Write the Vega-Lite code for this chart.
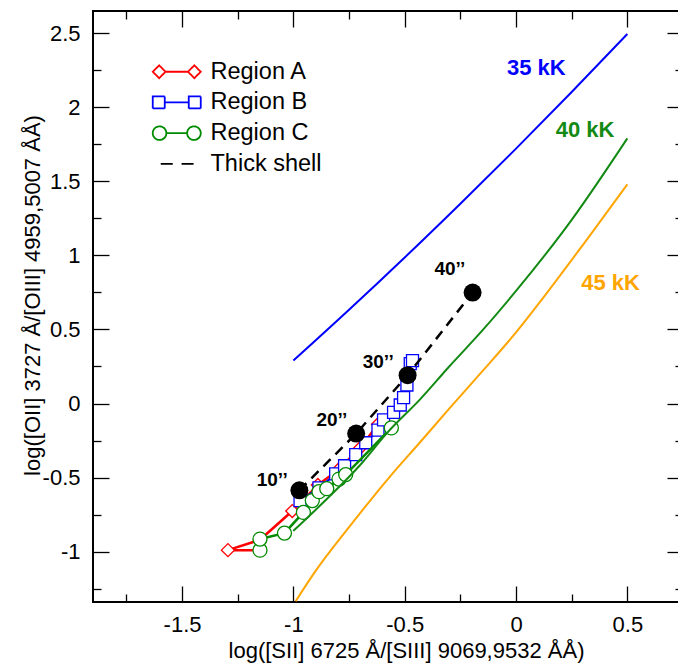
{
  "$schema": "https://vega.github.io/schema/vega-lite/v6.json",
  "width": 590,
  "height": 591,
  "autosize": {"type": "none"},
  "padding": {"left": 93, "top": 11, "right": -5, "bottom": 61},
  "background": "white",
  "config": {
    "font": "Liberation Sans",
    "view": {"stroke": "black", "strokeWidth": 2},
    "axis": {
      "grid": false,
      "domain": false,
      "labelFont": "Liberation Sans",
      "labelFontSize": 22,
      "labelColor": "black",
      "titleFont": "Liberation Sans",
      "titleFontSize": 22,
      "titleFontWeight": "normal",
      "titleColor": "black",
      "tickColor": "black",
      "tickWidth": 1.3,
      "labelFlush": false,
      "labelOverlap": false
    }
  },
  "datasets": {
    "curves": [
      {"curve": "35 kK", "x": -1.0, "y": 0.29},
      {"curve": "35 kK", "x": -0.75, "y": 0.633},
      {"curve": "35 kK", "x": -0.5, "y": 0.986},
      {"curve": "35 kK", "x": -0.25, "y": 1.349},
      {"curve": "35 kK", "x": 0.0, "y": 1.721},
      {"curve": "35 kK", "x": 0.25, "y": 2.103},
      {"curve": "35 kK", "x": 0.5, "y": 2.495},
      {"curve": "40 kK", "x": -1.0, "y": -0.86},
      {"curve": "40 kK", "x": -0.85, "y": -0.645},
      {"curve": "40 kK", "x": -0.7, "y": -0.415},
      {"curve": "40 kK", "x": -0.58, "y": -0.2},
      {"curve": "40 kK", "x": -0.43, "y": 0.03},
      {"curve": "40 kK", "x": -0.3, "y": 0.25},
      {"curve": "40 kK", "x": -0.15, "y": 0.495},
      {"curve": "40 kK", "x": 0.0, "y": 0.76},
      {"curve": "40 kK", "x": 0.25, "y": 1.24},
      {"curve": "40 kK", "x": 0.5, "y": 1.79},
      {"curve": "45 kK", "x": -0.99, "y": -1.335},
      {"curve": "45 kK", "x": -0.9, "y": -1.13},
      {"curve": "45 kK", "x": -0.75, "y": -0.835},
      {"curve": "45 kK", "x": -0.57, "y": -0.5},
      {"curve": "45 kK", "x": -0.43, "y": -0.26},
      {"curve": "45 kK", "x": -0.3, "y": -0.035},
      {"curve": "45 kK", "x": -0.15, "y": 0.22},
      {"curve": "45 kK", "x": 0.0, "y": 0.48},
      {"curve": "45 kK", "x": 0.12, "y": 0.71},
      {"curve": "45 kK", "x": 0.3, "y": 1.07},
      {"curve": "45 kK", "x": 0.5, "y": 1.48}
    ],
    "clabels": [
      {"curve": "35 kK", "x": 0.091, "y": 2.265},
      {"curve": "40 kK", "x": 0.31, "y": 1.846},
      {"curve": "45 kK", "x": 0.425, "y": 0.812}
    ],
    "regA": [
      {"series": "Region A", "o": 1, "x": -1.15, "y": -0.99},
      {"series": "Region A", "o": 2, "x": -1.294, "y": -0.99},
      {"series": "Region A", "o": 3, "x": -1.15, "y": -0.92},
      {"series": "Region A", "o": 4, "x": -1.005, "y": -0.726},
      {"series": "Region A", "o": 5, "x": -0.89, "y": -0.55},
      {"series": "Region A", "o": 6, "x": -0.8, "y": -0.45},
      {"series": "Region A", "o": 7, "x": -0.7, "y": -0.3},
      {"series": "Region A", "o": 8, "x": -0.62, "y": -0.14}
    ],
    "regB": [
      {"series": "Region B", "o": 1, "x": -0.97, "y": -0.655},
      {"series": "Region B", "o": 2, "x": -0.885, "y": -0.57},
      {"series": "Region B", "o": 3, "x": -0.81, "y": -0.475},
      {"series": "Region B", "o": 4, "x": -0.77, "y": -0.42},
      {"series": "Region B", "o": 5, "x": -0.72, "y": -0.345},
      {"series": "Region B", "o": 6, "x": -0.675, "y": -0.265},
      {"series": "Region B", "o": 7, "x": -0.62, "y": -0.18},
      {"series": "Region B", "o": 8, "x": -0.595, "y": -0.11},
      {"series": "Region B", "o": 9, "x": -0.55, "y": -0.06},
      {"series": "Region B", "o": 10, "x": -0.52, "y": -0.01},
      {"series": "Region B", "o": 11, "x": -0.505, "y": 0.04},
      {"series": "Region B", "o": 12, "x": -0.49, "y": 0.125},
      {"series": "Region B", "o": 13, "x": -0.475, "y": 0.27},
      {"series": "Region B", "o": 14, "x": -0.465, "y": 0.29}
    ],
    "regC": [
      {"series": "Region C", "o": 1, "x": -1.15, "y": -0.99},
      {"series": "Region C", "o": 2, "x": -1.15, "y": -0.915},
      {"series": "Region C", "o": 3, "x": -1.04, "y": -0.875},
      {"series": "Region C", "o": 4, "x": -0.955, "y": -0.735},
      {"series": "Region C", "o": 5, "x": -0.915, "y": -0.655},
      {"series": "Region C", "o": 6, "x": -0.885, "y": -0.595},
      {"series": "Region C", "o": 7, "x": -0.85, "y": -0.575},
      {"series": "Region C", "o": 8, "x": -0.795, "y": -0.51},
      {"series": "Region C", "o": 9, "x": -0.765, "y": -0.48},
      {"series": "Region C", "o": 10, "x": -0.56, "y": -0.165}
    ],
    "shell": [
      {"series": "Thick shell", "label": "10’’", "x": -0.973, "y": -0.586, "lx": -1.095, "ly": -0.514},
      {"series": "Thick shell", "label": "20’’", "x": -0.718, "y": -0.203, "lx": -0.827, "ly": -0.114},
      {"series": "Thick shell", "label": "30’’", "x": -0.487, "y": 0.191, "lx": -0.619, "ly": 0.278},
      {"series": "Thick shell", "label": "40’’", "x": -0.195, "y": 0.749, "lx": -0.297, "ly": 0.911}
    ]
  },
  "resolve": {"axis": {"x": "independent", "y": "independent"}},
  "layer": [
    {
      "data": {"name": "regA"},
      "mark": {"type": "line", "strokeWidth": 2.5},
      "encoding": {
        "x": {"field": "x", "type": "quantitative", "scale": {"domain": [-1.9, 0.75], "nice": false, "zero": false},
              "axis": {"orient": "bottom", "values": [-1.75, -1.25, -0.75, -0.25, 0.25], "tickSize": -8, "labels": false, "title": null}},
        "y": {"field": "y", "type": "quantitative", "scale": {"domain": [-1.34, 2.65], "nice": false, "zero": false},
              "axis": {"orient": "left", "values": [-1.25, -0.75, -0.25, 0.25, 0.75, 1.25, 1.75, 2.25], "tickSize": -8, "labels": false, "title": null}},
        "order": {"field": "o", "type": "quantitative"},
        "color": {"field": "series", "type": "nominal",
                  "scale": {"domain": ["Region A", "Region B", "Region C", "Thick shell"], "range": ["#ff0000", "#0000ff", "#008a00", "#000000"]},
                  "legend": {
                    "orient": "none", "legendX": 56, "legendY": 49, "title": null, "padding": 0, "rowPadding": 5.7,
                    "labelFont": "Liberation Sans", "labelFontSize": 23.5, "labelColor": "black", "labelOffset": 38,
                    "encode": {"symbols": {"update": {
                      "shape": {"signal": "datum.value === 'Region A' ? 'M-1,0L-0.2,-0.8L0.6,0L-0.2,0.8Z M0.6,0L3.4,0 M3.4,0L4.2,-0.8L5,0L4.2,0.8Z' : datum.value === 'Region B' ? 'M-1,-0.75L0.5,-0.75L0.5,0.75L-1,0.75Z M0.5,0L3.5,0 M3.5,-0.75L5,-0.75L5,0.75L3.5,0.75Z' : datum.value === 'Region C' ? 'M-1,0A0.85,0.85,0,1,1,0.7,0A0.85,0.85,0,1,1,-1,0Z M0.7,0L3.3,0 M3.3,0A0.85,0.85,0,1,1,5,0A0.85,0.85,0,1,1,3.3,0Z' : 'M0,0L1.5,0 M2.6,0L4.1,0'"},
                      "size": {"value": 256},
                      "strokeWidth": {"value": 1.8},
                      "fill": {"value": "transparent"},
                      "stroke": {"signal": "scale('color', datum.value)"},
                      "strokeDash": {"value": [1, 0]},
                      "opacity": {"value": 1}
                    }}}
                  }}
      }
    },
    {
      "data": {"name": "regA"},
      "mark": {"type": "point", "shape": "diamond", "filled": false, "fill": "white", "size": 169, "strokeWidth": 1.3, "opacity": 1},
      "encoding": {
        "x": {"field": "x", "type": "quantitative", "scale": {"domain": [-1.9, 0.75], "nice": false, "zero": false},
              "axis": {"orient": "top", "values": [-1.5, -1, -0.5, 0, 0.5], "tickSize": -16, "labels": false, "title": null}},
        "y": {"field": "y", "type": "quantitative", "scale": {"domain": [-1.34, 2.65], "nice": false, "zero": false},
              "axis": {"orient": "right", "values": [-1, -0.5, 0, 0.5, 1, 1.5, 2, 2.5], "tickSize": -16, "labels": false, "title": null}},
        "color": {"field": "series", "type": "nominal", "scale": {"domain": ["Region A", "Region B", "Region C", "Thick shell"], "range": ["#ff0000", "#0000ff", "#008a00", "#000000"]}}
      }
    },
    {
      "data": {"name": "regB"},
      "mark": {"type": "line", "strokeWidth": 2},
      "encoding": {
        "x": {"field": "x", "type": "quantitative", "scale": {"domain": [-1.9, 0.75], "nice": false, "zero": false},
              "axis": {"orient": "top", "values": [-1.75, -1.25, -0.75, -0.25, 0.25], "tickSize": -8, "labels": false, "title": null}},
        "y": {"field": "y", "type": "quantitative", "scale": {"domain": [-1.34, 2.65], "nice": false, "zero": false},
              "axis": {"orient": "right", "values": [-1.25, -0.75, -0.25, 0.25, 0.75, 1.25, 1.75, 2.25], "tickSize": -8, "labels": false, "title": null}},
        "order": {"field": "o", "type": "quantitative"},
        "color": {"field": "series", "type": "nominal", "scale": {"domain": ["Region A", "Region B", "Region C", "Thick shell"], "range": ["#ff0000", "#0000ff", "#008a00", "#000000"]}}
      }
    },
    {
      "data": {"name": "regB"},
      "mark": {"type": "point", "shape": "square", "filled": false, "fill": "white", "size": 144, "strokeWidth": 1.3, "opacity": 1},
      "encoding": {
        "x": {"field": "x", "type": "quantitative", "scale": {"domain": [-1.9, 0.75], "nice": false, "zero": false}, "axis": null},
        "y": {"field": "y", "type": "quantitative", "scale": {"domain": [-1.34, 2.65], "nice": false, "zero": false}, "axis": null},
        "color": {"field": "series", "type": "nominal", "scale": {"domain": ["Region A", "Region B", "Region C", "Thick shell"], "range": ["#ff0000", "#0000ff", "#008a00", "#000000"]}}
      }
    },
    {
      "data": {"name": "regC"},
      "mark": {"type": "line", "strokeWidth": 2.5},
      "encoding": {
        "x": {"field": "x", "type": "quantitative", "scale": {"domain": [-1.9, 0.75], "nice": false, "zero": false}, "axis": null},
        "y": {"field": "y", "type": "quantitative", "scale": {"domain": [-1.34, 2.65], "nice": false, "zero": false}, "axis": null},
        "order": {"field": "o", "type": "quantitative"},
        "color": {"field": "series", "type": "nominal", "scale": {"domain": ["Region A", "Region B", "Region C", "Thick shell"], "range": ["#ff0000", "#0000ff", "#008a00", "#000000"]}}
      }
    },
    {
      "data": {"name": "regC"},
      "mark": {"type": "point", "shape": "circle", "filled": false, "fill": "white", "size": 196, "strokeWidth": 1.3, "opacity": 1},
      "encoding": {
        "x": {"field": "x", "type": "quantitative", "scale": {"domain": [-1.9, 0.75], "nice": false, "zero": false}, "axis": null},
        "y": {"field": "y", "type": "quantitative", "scale": {"domain": [-1.34, 2.65], "nice": false, "zero": false}, "axis": null},
        "color": {"field": "series", "type": "nominal", "scale": {"domain": ["Region A", "Region B", "Region C", "Thick shell"], "range": ["#ff0000", "#0000ff", "#008a00", "#000000"]}}
      }
    },
    {
      "data": {"name": "curves"},
      "mark": {"type": "line", "strokeWidth": 2, "interpolate": "monotone"},
      "encoding": {
        "x": {"field": "x", "type": "quantitative", "scale": {"domain": [-1.9, 0.75], "nice": false, "zero": false},
              "axis": {"orient": "bottom", "values": [-1.5, -1, -0.5, 0, 0.5], "tickSize": -16, "labelPadding": 28, "labelExpr": "datum.value + ''",
                       "title": "log([SII] 6725 Å/[SIII] 9069,9532 ÅÅ)", "titlePadding": 5, "titleX": 313}},
        "y": {"field": "y", "type": "quantitative", "scale": {"domain": [-1.34, 2.65], "nice": false, "zero": false},
              "axis": {"orient": "left", "values": [-1, -0.5, 0, 0.5, 1, 1.5, 2, 2.5], "tickSize": -16, "labelPadding": 29, "labelExpr": "datum.value + ''",
                       "title": "log([OII] 3727 Å/[OIII] 4959,5007 ÅÅ)", "titleX": -61, "titleY": 284, "titleBaseline": "middle"}},
        "stroke": {"field": "curve", "type": "nominal", "scale": {"domain": ["35 kK", "40 kK", "45 kK"], "range": ["#0000ff", "#138a13", "#ffa500"]}, "legend": null}
      }
    },
    {
      "data": {"name": "clabels"},
      "mark": {"type": "text", "fontSize": 22, "fontWeight": "bold", "font": "Liberation Sans", "align": "center", "baseline": "middle"},
      "encoding": {
        "x": {"field": "x", "type": "quantitative", "scale": {"domain": [-1.9, 0.75], "nice": false, "zero": false}, "axis": null},
        "y": {"field": "y", "type": "quantitative", "scale": {"domain": [-1.34, 2.65], "nice": false, "zero": false}, "axis": null},
        "text": {"field": "curve"},
        "fill": {"field": "curve", "type": "nominal", "scale": {"domain": ["35 kK", "40 kK", "45 kK"], "range": ["#0000ff", "#138a13", "#ffa500"]}, "legend": null}
      }
    },
    {
      "data": {"name": "shell"},
      "mark": {"type": "line", "strokeWidth": 2.5, "strokeDash": [10, 7]},
      "encoding": {
        "x": {"field": "x", "type": "quantitative", "scale": {"domain": [-1.9, 0.75], "nice": false, "zero": false}, "axis": null},
        "y": {"field": "y", "type": "quantitative", "scale": {"domain": [-1.34, 2.65], "nice": false, "zero": false}, "axis": null},
        "color": {"field": "series", "type": "nominal", "scale": {"domain": ["Region A", "Region B", "Region C", "Thick shell"], "range": ["#ff0000", "#0000ff", "#008a00", "#000000"]}}
      }
    },
    {
      "data": {"name": "shell"},
      "mark": {"type": "point", "shape": "circle", "filled": true, "color": "black", "size": 324, "opacity": 1},
      "encoding": {
        "x": {"field": "x", "type": "quantitative", "scale": {"domain": [-1.9, 0.75], "nice": false, "zero": false}, "axis": null},
        "y": {"field": "y", "type": "quantitative", "scale": {"domain": [-1.34, 2.65], "nice": false, "zero": false}, "axis": null}
      }
    },
    {
      "data": {"name": "shell"},
      "mark": {"type": "text", "fontSize": 19, "fontWeight": "bold", "font": "Liberation Sans", "align": "center", "baseline": "middle", "color": "black"},
      "encoding": {
        "x": {"field": "lx", "type": "quantitative", "scale": {"domain": [-1.9, 0.75], "nice": false, "zero": false}, "axis": null},
        "y": {"field": "ly", "type": "quantitative", "scale": {"domain": [-1.34, 2.65], "nice": false, "zero": false}, "axis": null},
        "text": {"field": "label"}
      }
    }
  ]
}
